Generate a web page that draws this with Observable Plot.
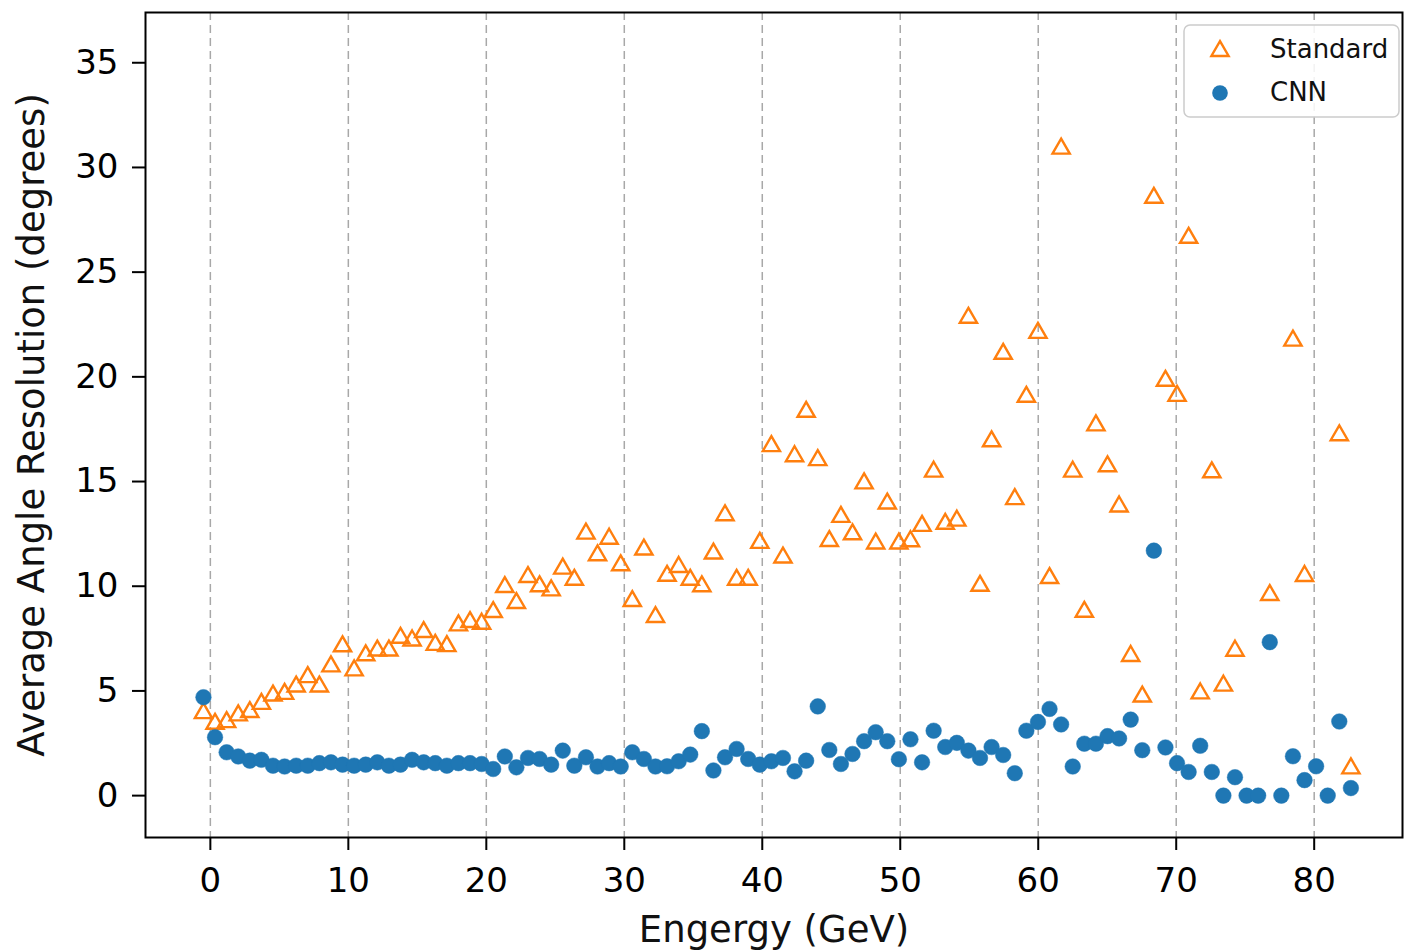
<!DOCTYPE html>
<html>
<head>
<meta charset="utf-8">
<script src="https://cdn.jsdelivr.net/npm/d3@7"></script>
<script src="https://cdn.jsdelivr.net/npm/@observablehq/plot@0.6"></script>
<style>
  html, body { margin: 0; padding: 0; background: #fff; }
  #chart svg { display: block; }
</style>
</head>
<body>
<div id="chart"></div>
<script>
const energy = [-0.50, 0.34, 1.18, 2.02, 2.86, 3.70, 4.54, 5.38, 6.22, 7.06, 7.90, 8.74, 9.58, 10.42, 11.26, 12.10, 12.94, 13.78, 14.62, 15.46,
  16.30, 17.14, 17.98, 18.82, 19.66, 20.50, 21.34, 22.18, 23.02, 23.86, 24.70, 25.54, 26.38, 27.22, 28.06, 28.90, 29.74, 30.58, 31.42, 32.26,
  33.10, 33.94, 34.78, 35.62, 36.46, 37.30, 38.14, 38.98, 39.82, 40.66, 41.50, 42.34, 43.18, 44.02, 44.86, 45.70, 46.54, 47.38, 48.22, 49.06,
  49.90, 50.74, 51.58, 52.42, 53.26, 54.10, 54.94, 55.78, 56.62, 57.46, 58.30, 59.14, 59.98, 60.82, 61.66, 62.50, 63.34, 64.18, 65.02, 65.86,
  66.70, 67.54, 68.38, 69.22, 70.06, 70.90, 71.74, 72.58, 73.42, 74.26, 75.10, 75.94, 76.78, 77.62, 78.46, 79.30, 80.14, 80.98, 81.82, 82.66];

const standard = [3.94, 3.43, 3.51, 3.83, 3.99, 4.38, 4.78, 4.86, 5.21, 5.66, 5.21, 6.17, 7.13, 5.98, 6.70, 6.93, 6.93, 7.54, 7.41, 7.81, 7.20,
  7.14, 8.13, 8.29, 8.21, 8.77, 9.96, 9.20, 10.44, 10.00, 9.80, 10.84, 10.31, 12.51, 11.48, 12.27, 11.00, 9.29, 11.75, 8.53, 10.50,
  10.92, 10.31, 10.00, 11.56, 13.39, 10.31, 10.31, 12.07, 16.69, 11.37, 16.21, 18.33, 16.02, 12.16, 13.31, 12.48, 14.91, 12.04, 13.95, 12.04,
  12.15, 12.88, 15.47, 12.98, 13.13, 22.82, 10.02, 16.92, 21.10, 14.16, 19.05, 22.10, 10.39, 30.90, 15.47, 8.78, 17.68, 15.73, 13.81,
  6.67, 4.73, 28.55, 19.81, 19.09, 26.64, 4.88, 15.44, 5.25, 6.92, null, null, 9.58, null, 21.73, 10.49, null, null, 17.21, 1.30];

const cnn = [4.70, 2.79, 2.07, 1.87, 1.67, 1.71, 1.43, 1.39, 1.43, 1.43, 1.55, 1.59, 1.48, 1.43, 1.48, 1.59, 1.43, 1.48, 1.71, 1.59, 1.55,
  1.43, 1.55, 1.55, 1.51, 1.27, 1.87, 1.35, 1.80, 1.75, 1.48, 2.15, 1.43, 1.83, 1.39, 1.55, 1.39, 2.07, 1.75, 1.39, 1.40,
  1.64, 1.96, 3.08, 1.20, 1.83, 2.23, 1.75, 1.48, 1.64, 1.80, 1.16, 1.67, 4.26, 2.18, 1.51, 1.99, 2.60, 3.03,
  2.60, 1.74, 2.69, 1.59, 3.10, 2.32, 2.52, 2.15, 1.80, 2.32, 1.94, 1.07, 3.10, 3.52, 4.14, 3.40, 1.39, 2.48, 2.48, 2.84, 2.73,
  3.63, 2.17, 11.70, 2.30, 1.55, 1.13, 2.38, 1.13, 0.00, 0.88, 0.00, 0.00, 7.33, 0.00, 1.88, 0.74, 1.40, 0.00, 3.54, 0.36];

const xTicks = [0, 10, 20, 30, 40, 50, 60, 70, 80];
const yTicks = [0, 5, 10, 15, 20, 25, 30, 35];
const seriesNames = ["Standard", "CNN"];
const xLabel = "Engergy (GeV)";
const yLabel = "Average Angle Resolution (degrees)";

const orange = "#ff7f0e";
const blue = "#1f77b4";
const triR = 6.4;
const dotR = 7.8;

const stdData = energy.map((e, i) => ({e, v: standard[i]})).filter(d => d.v != null);
const cnnData = energy.map((e, i) => ({e, v: cnn[i]}));

const chart = Plot.plot({
  width: 1404,
  height: 950,
  marginLeft: 145,
  marginRight: 2,
  marginTop: 12,
  marginBottom: 113,
  style: {fontFamily: "DejaVu Sans", background: "white", color: "#000"},
  x: {domain: [-4.7, 86.4]},
  y: {domain: [-2.0, 37.4]},
  marks: [
    Plot.ruleX(xTicks, {stroke: "#a8a8a8", strokeWidth: 1.5, strokeDasharray: "8,5"}),
    Plot.dot(stdData, {x: "e", y: "v", symbol: "triangle", r: triR, stroke: orange, strokeWidth: 2.4, fill: "white", fillOpacity: 0}),
    Plot.dot(cnnData, {x: "e", y: "v", r: dotR, fill: blue, stroke: blue, strokeWidth: 0.5}),
    Plot.axisX(xTicks, {tickSize: 13, tickPadding: 17, fontSize: 34, strokeWidth: 2, label: null}),
    Plot.axisY(yTicks, {tickSize: 13, tickPadding: 14, fontSize: 34, strokeWidth: 2, label: null}),
    Plot.text([xLabel], {frameAnchor: "bottom", dy: 104, fontSize: 37, text: d => d, fill: "#111"}),
    Plot.text([yLabel], {frameAnchor: "left", dx: -113, rotate: -90, textAnchor: "middle", fontSize: 37, text: d => d, fill: "#111"}),
    Plot.frame({stroke: "black", strokeWidth: 2})
  ]
});

document.getElementById("chart").appendChild(chart);

// Legend (upper right, inside the plot area)
const svg = d3.select(chart);
const lg = svg.append("g").attr("font-family", "DejaVu Sans").attr("text-anchor", "start");
lg.append("rect")
  .attr("x", 1184).attr("y", 25).attr("width", 215).attr("height", 92)
  .attr("rx", 6).attr("fill", "white").attr("fill-opacity", 0.85)
  .attr("stroke", "#cccccc").attr("stroke-width", 1.5);
const tri = d3.symbol(d3.symbolTriangle, Math.PI * triR * triR)();
lg.append("path").attr("d", tri).attr("transform", "translate(1220,51)")
  .attr("fill", "none").attr("stroke", orange).attr("stroke-width", 2.4);
lg.append("circle").attr("cx", 1220).attr("cy", 93).attr("r", dotR).attr("fill", blue);
lg.append("text").attr("x", 1270).attr("y", 49).attr("dy", "0.35em").attr("text-anchor", "start")
  .attr("font-size", 26).attr("fill", "#111").text(seriesNames[0]);
lg.append("text").attr("x", 1270).attr("y", 92).attr("dy", "0.35em").attr("text-anchor", "start")
  .attr("font-size", 26).attr("fill", "#111").text(seriesNames[1]);
</script>
</body>
</html>
